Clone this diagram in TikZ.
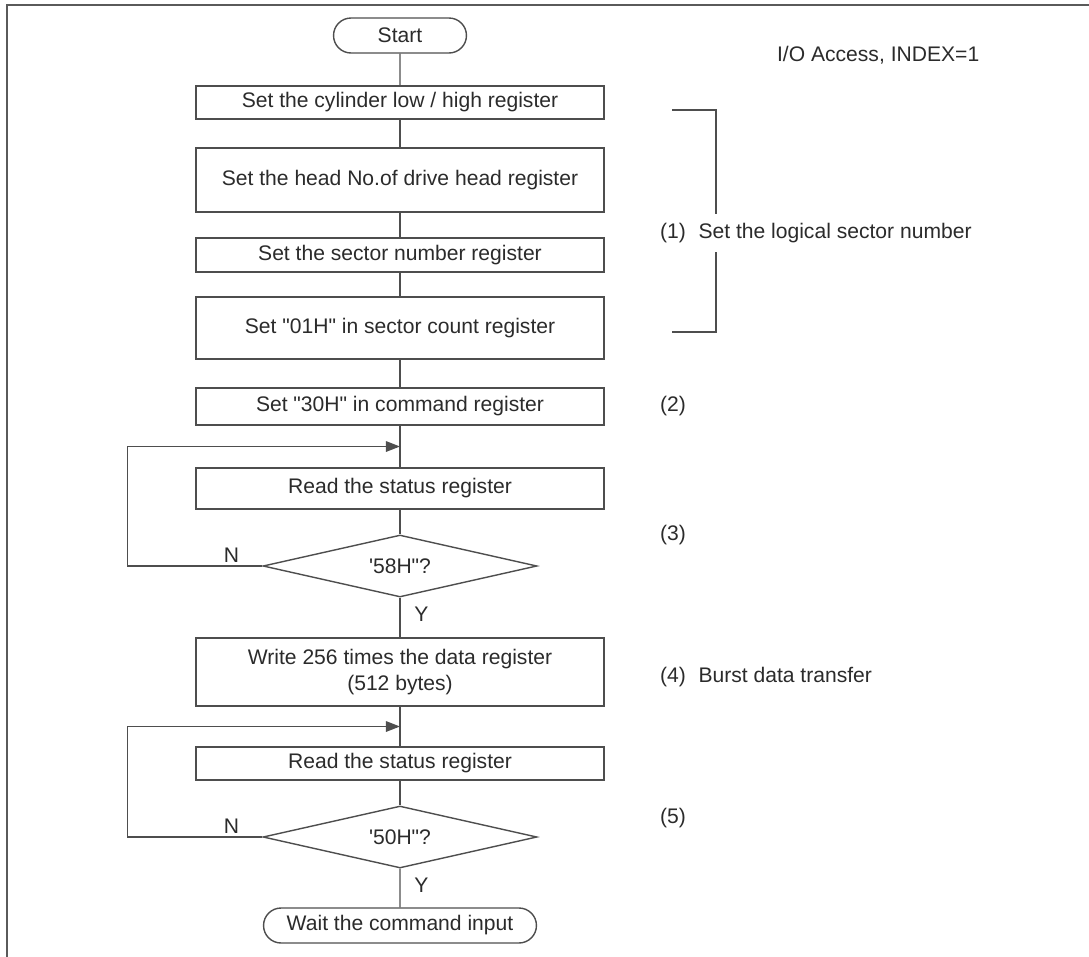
\documentclass[tikz,border=0pt]{standalone}
\usepackage{fontspec}
\setmainfont{Liberation Sans}
\usepackage{xcolor}
\usepackage{tikz}
\usetikzlibrary{arrows.meta,positioning,calc,shapes.geometric,shapes.misc}
\definecolor{cLine}{HTML}{4E4E4E}
\definecolor{cInk}{HTML}{2B2B2B}
\definecolor{cFrame}{HTML}{5A5A5A}
\tikzset{
  pbox/.style={draw=cLine,line width=0.8pt,minimum width=8.16cm,minimum height=#1,align=center,font=\fontsize{12}{15}\selectfont,text=cInk,inner sep=2pt},
  pbox/.default=0.68cm,
  tbox/.style={draw=cLine,line width=0.8pt,rounded rectangle,minimum width=#1,minimum height=0.7cm,font=\fontsize{12}{15}\selectfont,text=cInk,inner sep=2pt},
  tbox/.default=2.8cm,
  dbox/.style={draw=cLine,line width=0.8pt,diamond,aspect=4.4,inner sep=0pt,minimum width=5.48cm,minimum height=1.24cm,font=\fontsize{12}{15}\selectfont,text=cInk},
  ln/.style={line width=0.8pt,color=cLine},
  arr/.style={-{Triangle[length=8pt,width=6pt]},line width=0.8pt,color=cLine},
  lbl/.style={font=\fontsize{12}{15}\selectfont,text=cInk,inner sep=1pt},
}
\newcommand{\dq}{\textquotedbl}
\newcommand{\sq}{\textquotesingle}

\begin{document}
\begin{tikzpicture}[x=0.02cm,y=-0.02cm]
    \useasboundingbox (0,0) rectangle (1089,957);
    \draw[cFrame,line width=1.6pt] (7,957) -- (7,5) -- (1089,5);

    % main column
    \node[tbox] (start) at (400,35.5) {Start};
    \node[pbox=0.66cm] (b1) at (400,102.5) {Set the cylinder low / high register};
    \node[pbox=1.28cm] (b2) at (400,180) {Set the head No.of drive head register};
    \node[pbox=0.68cm] (b3) at (400,255) {Set the sector number register};
    \node[pbox=1.24cm] (b4) at (400,328) {Set \dq01H\dq{} in sector count register};
    \node[pbox=0.74cm] (b5) at (400,406.5) {Set \dq30H\dq{} in command register};
    \node[pbox=0.82cm] (b6) at (400,488.5) {Read the status register};
    \node[dbox] (d1) at (400,566) {\sq58H\dq?};
    \node[pbox=1.36cm] (b7) at (400,672) {Write 256 times the data register\\(512 bytes)};
    \node[pbox=0.66cm] (b8) at (400,763.5) {Read the status register};
    \node[dbox] (d2) at (400,837) {\sq50H\dq?};
    \node[tbox=5.6cm] (stop) at (400,925.5) {Wait the command input};

    \coordinate (j1) at ($(b5.south)!0.5!(b6.north)$);
    \coordinate (j2) at ($(b7.south)!0.5!(b8.north)$);

    \draw[ln] (start) -- (b1);
    \draw[ln] (b1) -- (b2);
    \draw[ln] (b2) -- (b3);
    \draw[ln] (b3) -- (b4);
    \draw[ln] (b4) -- (b5);
    \draw[ln] (b5) -- (b6);
    \draw[ln] (b6) -- (d1);
    \draw[ln] (d1) -- (b7);
    \draw[ln] (b7) -- (b8);
    \draw[ln] (b8) -- (d2);
    \draw[ln] (d2) -- (stop);

    % retry loops
    \draw[arr] (d1.west) -- ++(-135,0) |- (j1);
    \draw[arr] (d2.west) -- ++(-135,0) |- (j2);
    \node[lbl,above left=1pt and 12pt of d1.west] (n1) {N};
    \node[lbl,below right=4pt and 7pt of d1.south] (y1) {Y};
    \node[lbl,above left=1pt and 12pt of d2.west] (n2) {N};
    \node[lbl,below right=4pt and 7pt of d2.south] (y2) {Y};

    % notes on the right
    \node[lbl,anchor=west] (mode) at (775,55) {I/O Access, INDEX=1};
    \coordinate (brA) at (672,110);
    \coordinate (brB) at (716,110);
    \coordinate (brC) at (716,332);
    \coordinate (brD) at (672,332);
    \draw[ln] (brA) -- (brB) -- (brC) -- (brD);
    \node[lbl,anchor=west,fill=white,inner ysep=5pt] (s1) at (658,233) {(1)\hspace{0.6em}Set the logical sector number};
    \node[lbl,anchor=west] (s2) at (658,406) {(2)};
    \node[lbl,anchor=west] (s3) at (658,535) {(3)};
    \node[lbl,anchor=west] (s4) at (658,677) {(4)\hspace{0.6em}Burst data transfer};
    \node[lbl,anchor=west] (s5) at (658,818) {(5)};
  \end{tikzpicture}
\end{document}
